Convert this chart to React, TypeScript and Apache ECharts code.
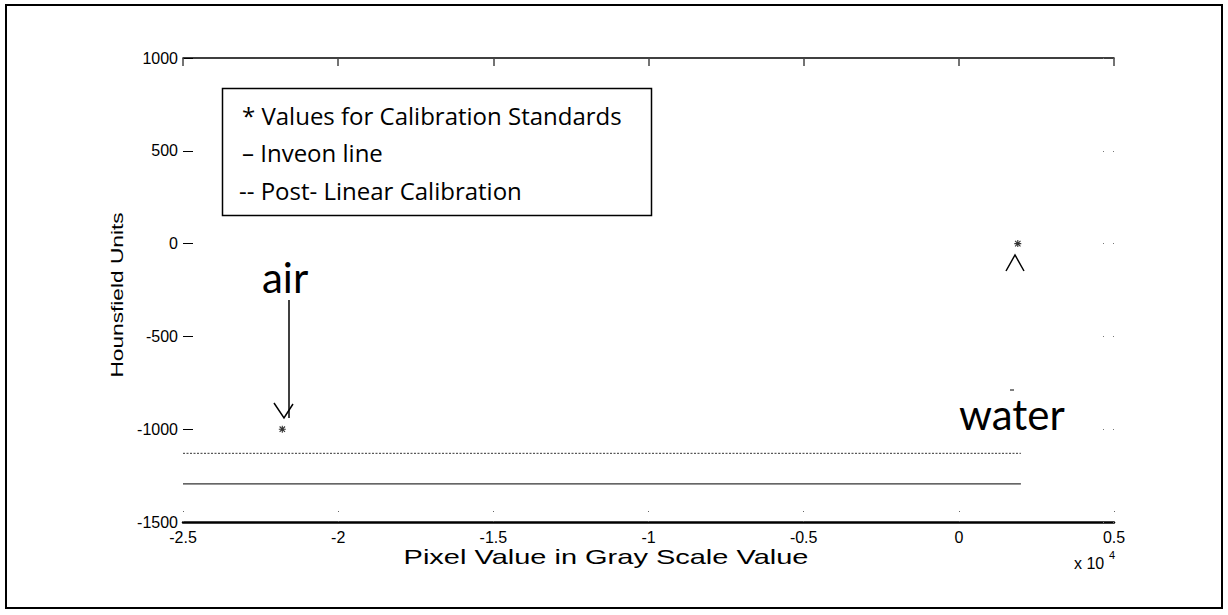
import React, { useEffect, useRef } from "react";
import * as echarts from "echarts";

// Calibration standards (air, water): pixel value vs Hounsfield units
const standardNames = ["air", "water"];
const standardPixel = [-21800, 1900];
const standardHU = [-1000, 0];

// Fitted lines over the pixel range
const linePixel = [-25000, 2000];
const inveonHU = [-1295, -1295];
const postLinearHU = [-1130, -1130];

// Axis ranges and ticks
const xMin = -25000;
const xMax = 5000;
const xStep = 5000;
const yMin = -1500;
const yMax = 1000;
const yStep = 500;

const legendLines = [
  "* Values for Calibration Standards",
  "\u2013 Inveon line",
  "-- Post- Linear Calibration",
];

const AXIS_FONT = "'Liberation Sans', Arial, sans-serif";
const NOTE_FONT = "'Open Sans', sans-serif";
const BIG_FONT = "Lato, 'Open Sans', sans-serif";

// eight-armed asterisk marker
const asterisk =
  "path://M4.2,0H5.8V10H4.2Z M0,4.2H10V5.8H0Z M0.6,1.7L1.7,0.6L9.4,8.3L8.3,9.4Z M0.6,8.3L8.3,0.6L9.4,1.7L1.7,9.4Z";

export default function App() {
  const ref = useRef<HTMLDivElement>(null);

  useEffect(() => {
    document.body.style.margin = "0";
    if (!ref.current) return;
    const chart = echarts.init(ref.current, undefined, { renderer: "svg" });

    const xAxisBase = {
      type: "value" as const,
      min: xMin,
      max: xMax,
      interval: xStep,
      splitLine: { show: false },
    };
    const yAxisBase = {
      type: "value" as const,
      min: yMin,
      max: yMax,
      interval: yStep,
      splitLine: { show: false },
    };

    chart.setOption({
      animation: false,
      backgroundColor: "#fff",
      grid: { left: 183, top: 58, right: 114, bottom: 93 },
      xAxis: [
        {
          ...xAxisBase,
          position: "bottom",
          axisLine: { show: true, onZero: false, lineStyle: { color: "#000", width: 2.5 } },
          axisTick: {
            show: true,
            inside: true,
            length: 11,
            lineStyle: { color: "#666", width: 1, type: [1, 9] },
          },
          axisLabel: {
            color: "#000",
            fontSize: 16,
            fontFamily: AXIS_FONT,
            margin: 7,
            formatter: (v: number) => String(v / 10000),
          },
        },
        {
          ...xAxisBase,
          position: "top",
          axisLine: { show: true, onZero: false, lineStyle: { color: "#000", width: 1.5 } },
          axisTick: {
            show: true,
            inside: true,
            length: 8,
            lineStyle: { color: "#444", width: 1.5 },
          },
          axisLabel: { show: false },
        },
      ],
      yAxis: [
        {
          ...yAxisBase,
          position: "left",
          axisLine: { show: false, onZero: false },
          axisTick: {
            show: true,
            inside: true,
            length: 10,
            lineStyle: { color: "#000", width: 1 },
          },
          axisLabel: {
            color: "#000",
            fontSize: 16,
            fontFamily: AXIS_FONT,
            margin: 5,
            formatter: (v: number) => String(v),
          },
        },
        {
          ...yAxisBase,
          position: "right",
          axisLine: { show: false, onZero: false },
          axisTick: {
            show: true,
            inside: true,
            length: 11,
            lineStyle: { color: "#777", width: 1, type: [1, 9] },
          },
          axisLabel: { show: false },
        },
      ],
      series: [
        {
          name: "Post- Linear Calibration",
          type: "line",
          data: linePixel.map((x, i) => [x, postLinearHU[i]]),
          symbol: "none",
          lineStyle: { color: "#333", width: 1, type: [2, 1.5] },
        },
        {
          name: "Inveon line",
          type: "line",
          data: linePixel.map((x, i) => [x, inveonHU[i]]),
          symbol: "none",
          lineStyle: { color: "#333", width: 1.2 },
        },
        {
          name: "Values for Calibration Standards",
          type: "scatter",
          data: standardPixel.map((x, i) => ({
            name: standardNames[i],
            value: [x, standardHU[i]],
          })),
          symbol: asterisk,
          symbolSize: 7,
          itemStyle: { color: "#000" },
        },
      ],
      graphic: [
        // outer frame
        {
          type: "rect",
          shape: { x: 6, y: 5, width: 1216, height: 603 },
          style: { fill: "none", stroke: "#000", lineWidth: 2 },
          silent: true,
        },
        // legend note box
        {
          type: "rect",
          shape: { x: 222.5, y: 88.5, width: 429, height: 127 },
          style: { fill: "#fff", stroke: "#000", lineWidth: 1.5 },
          z: 10,
        },
        ...legendLines.map((t, i) => ({
          type: "text",
          x: i === 2 ? 239 : 242,
          y: [115, 152, 190][i],
          z: 11,
          style: {
            text: t,
            fontSize: 24,
            fontFamily: NOTE_FONT,
            fill: "#000",
            verticalAlign: "middle",
          },
        })),
        // axis titles
        {
          type: "text",
          x: 117,
          y: 295,
          rotation: Math.PI / 2,
          scaleX: 1.42,
          style: {
            text: "Hounsfield Units",
            fontSize: 16,
            fontFamily: AXIS_FONT,
            fill: "#000",
            align: "center",
            verticalAlign: "middle",
          },
        },
        {
          type: "text",
          x: 606,
          y: 557,
          scaleX: 1.45,
          style: {
            text: "Pixel Value in Gray Scale Value",
            fontSize: 20,
            fontFamily: AXIS_FONT,
            fill: "#000",
            align: "center",
            verticalAlign: "middle",
          },
        },
        {
          type: "text",
          x: 1074,
          y: 563,
          style: {
            text: "x 10",
            fontSize: 16,
            fontFamily: AXIS_FONT,
            fill: "#000",
            verticalAlign: "middle",
          },
        },
        {
          type: "text",
          x: 1109,
          y: 555,
          style: {
            text: "4",
            fontSize: 11,
            fontFamily: AXIS_FONT,
            fill: "#000",
            verticalAlign: "middle",
          },
        },
        // air annotation
        {
          type: "text",
          x: 262,
          y: 277,
          style: {
            text: "air",
            fontSize: 42,
            fontFamily: BIG_FONT,
            fill: "#000",
            verticalAlign: "middle",
          },
        },
        {
          type: "line",
          shape: { x1: 289, y1: 300, x2: 289, y2: 418 },
          style: { stroke: "#000", lineWidth: 1.5 },
        },
        {
          type: "polyline",
          shape: { points: [[274, 403], [284, 418], [293, 404]] },
          style: { stroke: "#000", lineWidth: 1.5, fill: "none" },
        },
        // water annotation
        {
          type: "polyline",
          shape: { points: [[1006, 271], [1015, 255], [1024, 271]] },
          style: { stroke: "#000", lineWidth: 1.5, fill: "none" },
        },
        {
          type: "line",
          shape: { x1: 1010, y1: 390, x2: 1014, y2: 390 },
          style: { stroke: "#000", lineWidth: 1 },
        },
        {
          type: "text",
          x: 959,
          y: 414,
          style: {
            text: "water",
            fontSize: 42,
            fontFamily: BIG_FONT,
            fill: "#000",
            verticalAlign: "middle",
          },
        },
      ],
    });

    return () => chart.dispose();
  }, []);

  return <div ref={ref} style={{ width: 1228, height: 615 }} />;
}
